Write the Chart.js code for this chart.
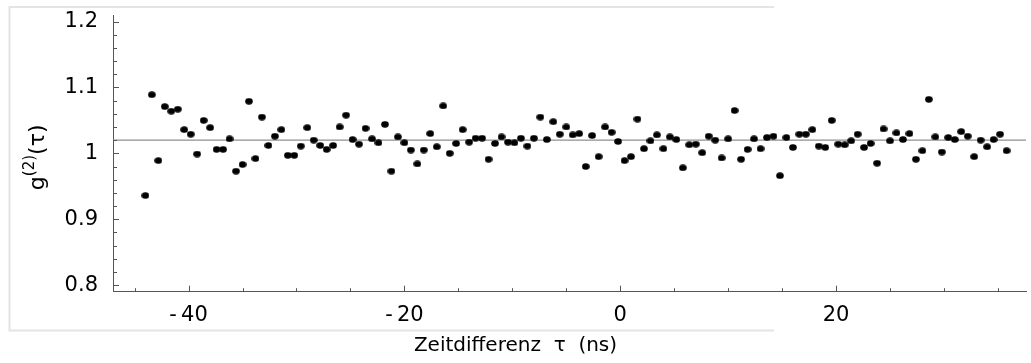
<!DOCTYPE html>
<html>
<head>
<meta charset="utf-8">
<script src="https://cdn.jsdelivr.net/npm/chart.js@4.4.0/dist/chart.umd.min.js"></script>
<style>
  html, body { margin: 0; padding: 0; background: #fff; }
</style>
</head>
<body>
<canvas id="myChart" width="1031" height="363"></canvas>
<script>
// time difference tau (ns) of each histogram bin
var tau = [
  -44.0, -43.4, -42.8, -42.2, -41.6, -41.0, -40.4, -39.8, -39.2, -38.6,
  -38.0, -37.4, -36.8, -36.2, -35.6, -35.0, -34.4, -33.8, -33.2, -32.6,
  -32.0, -31.4, -30.8, -30.2, -29.6, -29.0, -28.4, -27.8, -27.2, -26.6,
  -26.0, -25.4, -24.8, -24.2, -23.6, -23.0, -22.4, -21.8, -21.2, -20.6,
  -20.0, -19.4, -18.8, -18.2, -17.6, -17.0, -16.4, -15.8, -15.2, -14.6,
  -14.0, -13.4, -12.8, -12.2, -11.6, -11.0, -10.4, -9.8, -9.2, -8.6,
  -8.0, -7.4, -6.8, -6.2, -5.6, -5.0, -4.4, -3.8, -3.2, -2.6,
  -2.0, -1.4, -0.8, -0.2, 0.4, 1.0, 1.6, 2.2, 2.8, 3.4,
  4.0, 4.6, 5.2, 5.8, 6.4, 7.0, 7.6, 8.2, 8.8, 9.4,
  10.0, 10.6, 11.2, 11.8, 12.4, 13.0, 13.6, 14.2, 14.8, 15.4,
  16.0, 16.6, 17.2, 17.8, 18.4, 19.0, 19.6, 20.2, 20.8, 21.4,
  22.0, 22.6, 23.2, 23.8, 24.4, 25.0, 25.6, 26.2, 26.8, 27.4,
  28.0, 28.6, 29.2, 29.8, 30.4, 31.0, 31.6, 32.2, 32.8, 33.4,
  34.0, 34.6, 35.2, 35.8
];

// measured g2(tau)
var g2 = [
  0.936, 1.089, 0.989, 1.071, 1.064, 1.067, 1.036, 1.029, 0.999, 1.050,
  1.039, 1.006, 1.006, 1.022, 0.973, 0.983, 1.079, 0.992, 1.055, 1.012,
  1.026, 1.036, 0.997, 0.997, 1.011, 1.039, 1.020, 1.012, 1.006, 1.012,
  1.040, 1.058, 1.021, 1.014, 1.038, 1.022, 1.016, 1.044, 0.973, 1.025,
  1.016, 1.005, 0.984, 1.005, 1.030, 1.010, 1.072, 1.000, 1.015, 1.036,
  1.017, 1.023, 1.023, 0.991, 1.015, 1.025, 1.017, 1.016, 1.023, 1.011,
  1.023, 1.055, 1.021, 1.048, 1.029, 1.040, 1.028, 1.030, 0.980, 1.027,
  0.995, 1.040, 1.032, 1.018, 0.989, 0.995, 1.052, 1.007, 1.019, 1.028,
  1.007, 1.025, 1.021, 0.978, 1.013, 1.014, 1.001, 1.026, 1.020, 0.993,
  1.022, 1.065, 0.991, 1.006, 1.022, 1.007, 1.024, 1.026, 0.966, 1.024,
  1.009, 1.029, 1.029, 1.036, 1.011, 1.009, 1.050, 1.014, 1.013, 1.019,
  1.029, 1.009, 1.015, 0.985, 1.037, 1.019, 1.031, 1.021, 1.030, 0.991,
  1.004, 1.082, 1.025, 1.002, 1.024, 1.021, 1.033, 1.026, 0.995, 1.020,
  1.010, 1.021, 1.029, 1.004
];

var fitLevel = 1.02;
var xRange = [-47, 37.6];
var yRange = [0.79, 1.21];
var xMajor = [-40, -20, 0, 20];
var yMajor = [0.8, 0.9, 1, 1.1, 1.2];

var points = tau.map(function (t, i) { return { x: t, y: g2[i] }; });
var levelLine = xRange.map(function (x) { return { x: x, y: fitLevel }; });

// slightly wide dot, like in the original plot
var dot = document.createElement('canvas');
dot.width = 8;
dot.height = 7;
var dctx = dot.getContext('2d');
dctx.fillStyle = '#000';
dctx.beginPath();
dctx.ellipse(4, 3.5, 3.8, 3.2, 0, 0, 2 * Math.PI);
dctx.fill();

// grey frame, inward tick marks and the g(2)(tau) axis label (Mathematica style)
var mmaAxes = {
  id: 'mmaAxes',
  beforeDraw: function (chart) {
    var ctx = chart.ctx;
    ctx.save();
    ctx.strokeStyle = '#e4e4e4';
    ctx.lineWidth = 2;
    ctx.beginPath();
    ctx.moveTo(774, 7);
    ctx.lineTo(9.5, 7);
    ctx.lineTo(9.5, 330.5);
    ctx.lineTo(774, 330.5);
    ctx.stroke();
    ctx.restore();
  },
  afterDraw: function (chart) {
    var ctx = chart.ctx;
    var xs = chart.scales.x, ys = chart.scales.y, a = chart.chartArea;
    ctx.save();
    ctx.strokeStyle = '#555';
    ctx.lineWidth = 1;
    ctx.beginPath();
    for (var v = -45; v <= 35; v += 5) {
      var px = Math.round(xs.getPixelForValue(v)) + 0.5;
      var len = xMajor.indexOf(v) >= 0 ? 6 : 3.5;
      ctx.moveTo(px, a.bottom);
      ctx.lineTo(px, a.bottom - len);
    }
    for (var i = 40; i <= 60; i++) {
      var py = Math.round(ys.getPixelForValue(i * 0.02)) + 0.5;
      ctx.moveTo(a.left, py);
      ctx.lineTo(a.left + (i % 5 === 0 ? 6 : 4), py);
    }
    ctx.stroke();

    // y axis label with a real superscript
    var big = '22px "DejaVu Sans"', small = '15px "DejaVu Sans"';
    ctx.fillStyle = '#000';
    ctx.textBaseline = 'alphabetic';
    ctx.textAlign = 'left';
    ctx.font = big;
    var w1 = ctx.measureText('g').width, w3 = ctx.measureText('(\u03c4)').width;
    ctx.font = small;
    var w2 = ctx.measureText('(2)').width;
    ctx.translate(44, (a.top + a.bottom) / 2 + 4);
    ctx.rotate(-Math.PI / 2);
    var x0 = -(w1 + w2 + w3) / 2;
    ctx.font = big;
    ctx.fillText('g', x0, 0);
    ctx.font = small;
    ctx.fillText('(2)', x0 + w1, -10);
    ctx.font = big;
    ctx.fillText('(\u03c4)', x0 + w1 + w2, 0);
    ctx.restore();
  }
};

var tickFont = { family: 'DejaVu Sans', size: 21 };
var titleFont = { family: 'DejaVu Sans', size: 20, weight: 'normal' };

var ctx = document.getElementById('myChart').getContext('2d');
var chart = new Chart(ctx, {
  type: 'scatter',
  data: {
    datasets: [
      {
        label: 'g2',
        data: points,
        pointStyle: dot,
        pointRadius: 3.5,
        backgroundColor: '#000',
        borderColor: '#000',
        order: 0
      },
      {
        type: 'line',
        label: 'level',
        data: levelLine,
        borderColor: '#8f8f8f',
        borderWidth: 1.3,
        pointRadius: 0,
        fill: false,
        order: 1
      }
    ]
  },
  options: {
    responsive: false,
    animation: false,
    events: [],
    layout: { padding: { top: 15, left: 0, right: 0, bottom: 0 } },
    plugins: {
      legend: { display: false },
      tooltip: { enabled: false },
      title: {
        display: true,
        position: 'bottom',
        text: 'Zeitdifferenz  \u03c4  (ns)',
        color: '#000',
        font: titleFont,
        padding: { top: 0, bottom: 5 }
      }
    },
    scales: {
      x: {
        type: 'linear',
        min: xRange[0],
        max: xRange[1],
        afterBuildTicks: function (s) { s.ticks = xMajor.map(function (v) { return { value: v }; }); },
        afterFit: function (s) { s.height = 42.3; s.paddingLeft = 0; s.paddingRight = 0; },
        grid: { drawOnChartArea: false, drawTicks: false },
        border: { color: '#555', width: 1 },
        ticks: {
          color: '#000',
          font: tickFont,
          padding: 11,
          autoSkip: false,
          maxRotation: 0,
          callback: function (v) { return v < 0 ? '-\u2009' + Math.abs(v) : String(v); }
        }
      },
      y: {
        type: 'linear',
        min: yRange[0],
        max: yRange[1],
        afterBuildTicks: function (s) { s.ticks = yMajor.map(function (v) { return { value: v }; }); },
        afterFit: function (s) { s.width = 113; s.paddingTop = 0; s.paddingBottom = 0; },
        grid: { drawOnChartArea: false, drawTicks: false },
        border: { color: '#555', width: 1 },
        ticks: {
          color: '#000',
          font: tickFont,
          padding: 15,
          autoSkip: false,
          callback: function (v) { return String(Math.round(v * 10) / 10); }
        }
      }
    }
  },
  plugins: [mmaAxes]
});
</script>
</body>
</html>
